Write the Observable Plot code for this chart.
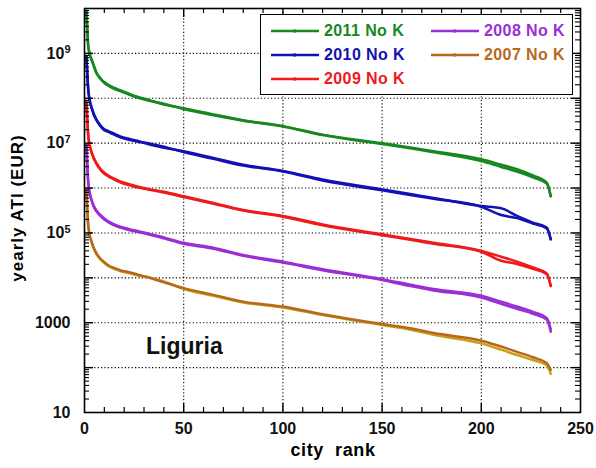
<!DOCTYPE html>
<html>
<head>
<meta charset="utf-8">
<script src="https://cdn.jsdelivr.net/npm/d3@7"></script>
<script src="https://cdn.jsdelivr.net/npm/@observablehq/plot@0.6"></script>
<style>
  body { margin: 0; background: #fff; }
  #wrap { position: relative; width: 596px; height: 468px; font-family: "Liberation Sans", Arial, sans-serif; font-weight: bold; }
  .abs { position: absolute; white-space: pre; }
  #legend { position: absolute; left: 260px; top: 14px; width: 311px; height: 79px; border: 1.5px solid #000; background: #fff; }
  .entry { position: absolute; height: 20px; display: flex; align-items: center; font-size: 16px; letter-spacing: 0.4px; }
  .entry svg { margin-right: 5px; }
</style>
</head>
<body>
<div id="wrap">
  <div id="chart"></div>
  <div id="legend"></div>
  <div class="abs" id="xtitle" style="left:0;width:596px;top:440px;text-align:center;padding-left:70px;box-sizing:border-box;font-size:18px;letter-spacing:0.6px;">city  rank</div>
  <div class="abs" id="ytitle" style="left:-82px;top:197px;width:200px;height:22px;line-height:22px;text-align:center;font-size:17px;letter-spacing:1px;transform:rotate(-90deg);transform-origin:50% 50%;">yearly ATI (EUR)</div>
</div>
<script>
// ---------------- data ----------------
const ranks = [1, 2, 4, 6, 8, 10, 12, 15, 18, 23, 27, 32, 40, 50, 65, 80, 100, 120, 150, 165, 176, 200, 210, 218, 226, 233, 235];

const seriesNames = ["2011 No K", "2010 No K", "2009 No K", "2008 No K", "2007 No K"];
const seriesColors = ["#17881f", "#1212b4", "#f01a1a", "#9a2fd6", "#b8681c"];
const secondColors = ["#17881f", "#1212b4", "#f01a1a", "#9a2fd6", "#c6a212"];

// log10 of yearly ATI (EUR), first branch
const log2011a = [9.95, 9.12, 8.82, 8.58, 8.43, 8.36, 8.30, 8.23, 8.18, 8.09, 8.03, 7.97, 7.86, 7.78, 7.64, 7.51, 7.38, 7.19, 7.00, 6.90, 6.82, 6.64, 6.52, 6.42, 6.28, 6.12, 5.82];
const log2010a = [8.93, 8.15, 7.74, 7.53, 7.40, 7.31, 7.27, 7.21, 7.15, 7.09, 7.05, 6.98, 6.90, 6.82, 6.67, 6.52, 6.38, 6.19, 5.97, 5.86, 5.78, 5.60, 5.55, 5.38, 5.23, 5.12, 4.86];
const log2009a = [7.93, 7.12, 6.75, 6.56, 6.43, 6.34, 6.28, 6.21, 6.15, 6.08, 6.03, 5.98, 5.92, 5.82, 5.67, 5.51, 5.38, 5.19, 4.97, 4.86, 4.78, 4.60, 4.47, 4.36, 4.23, 4.10, 3.82];
const log2008a = [6.96, 6.08, 5.68, 5.50, 5.40, 5.32, 5.26, 5.19, 5.14, 5.08, 5.04, 4.99, 4.90, 4.78, 4.67, 4.51, 4.36, 4.19, 3.97, 3.84, 3.75, 3.60, 3.47, 3.36, 3.24, 3.10, 2.86];
const log2007a = [5.96, 5.12, 4.75, 4.55, 4.43, 4.35, 4.28, 4.22, 4.17, 4.12, 4.07, 4.01, 3.90, 3.77, 3.62, 3.47, 3.36, 3.19, 2.97, 2.87, 2.77, 2.60, 2.47, 2.35, 2.23, 2.10, 1.95];
// second branch (nearly overlapping curve of the same year)
const log2011b = [9.95, 9.10, 8.80, 8.56, 8.45, 8.34, 8.28, 8.21, 8.16, 8.07, 8.01, 7.95, 7.88, 7.76, 7.62, 7.50, 7.37, 7.18, 6.98, 6.88, 6.80, 6.60, 6.47, 6.37, 6.24, 6.10, 5.82];
const log2010b = [8.93, 8.13, 7.72, 7.51, 7.38, 7.29, 7.25, 7.19, 7.13, 7.07, 7.03, 7.00, 6.92, 6.80, 6.65, 6.50, 6.37, 6.17, 5.95, 5.84, 5.76, 5.58, 5.40, 5.33, 5.21, 5.10, 4.86];
const log2009b = [7.93, 7.10, 6.73, 6.54, 6.41, 6.32, 6.26, 6.19, 6.13, 6.06, 6.01, 5.97, 5.90, 5.80, 5.65, 5.50, 5.36, 5.17, 4.95, 4.84, 4.76, 4.58, 4.38, 4.31, 4.20, 4.08, 3.82];
const log2008b = [6.96, 6.06, 5.66, 5.48, 5.38, 5.30, 5.24, 5.17, 5.12, 5.06, 5.02, 4.97, 4.88, 4.76, 4.65, 4.49, 4.34, 4.17, 3.95, 3.81, 3.72, 3.56, 3.42, 3.31, 3.20, 3.07, 2.80];
const log2007b = [5.96, 5.10, 4.73, 4.53, 4.41, 4.33, 4.26, 4.20, 4.15, 4.10, 4.05, 4.02, 3.92, 3.75, 3.60, 3.45, 3.34, 3.17, 2.95, 2.84, 2.73, 2.54, 2.40, 2.28, 2.17, 2.05, 1.86];

const branchA = [log2011a, log2010a, log2009a, log2008a, log2007a];
const branchB = [log2011b, log2010b, log2009b, log2008b, log2007b];

const xTickLabels = [0, 50, 100, 150, 200, 250];
const yTickLabels = [10, 1e3, 1e5, 1e7, 1e9];
const gridX = [50, 100, 150, 200];
const gridY = [1e2, 1e3, 1e4, 1e5, 1e6, 1e7, 1e8, 1e9];
const minorX = d3.range(10, 250, 10).filter(v => v % 50 !== 0);
const minorY = d3.range(1, 10).flatMap(e => d3.range(2, 10).map(k => k * 10 ** e));
const panelLabel = [{rank: 31, ati: 10 ** 2.31, text: "Liguria"}];

// ---------------- build rows ----------------
function rowsFor(arr, name) {
  return ranks.map((r, i) => ({rank: r, ati: 10 ** arr[i], series: name}));
}

const W = 596, H = 468, mt = 8, mb = 56, ml = 84, mr = 16;
const ph = H - mt - mb, pw = W - ml - mr;

const lineMarks = [];
seriesNames.forEach((name, i) => {
  lineMarks.push(Plot.line(rowsFor(branchB[i], name), {x: "rank", y: "ati", stroke: secondColors[i], strokeWidth: 2.5, curve: "monotone-x"}));
  lineMarks.push(Plot.line(rowsFor(branchA[i], name), {x: "rank", y: "ati", stroke: seriesColors[i], strokeWidth: 2.5, curve: "monotone-x"}));
});

const chart = Plot.plot({
  width: W, height: H,
  marginTop: mt, marginBottom: mb, marginLeft: ml, marginRight: mr,
  x: {domain: [0, 250]},
  y: {type: "log", domain: [10, 1e10]},
  style: {fontFamily: "'Liberation Sans', Arial, sans-serif", fontSize: "16px", fontWeight: "bold", color: "#111", background: "transparent"},
  marks: [
    Plot.ruleX(gridX, {stroke: "#000", strokeWidth: 1.1, strokeDasharray: "1.2,2.2"}),
    Plot.ruleY(gridY, {stroke: "#000", strokeWidth: 1.1, strokeDasharray: "1.2,2.2"}),
    ...lineMarks,
    Plot.text(panelLabel, {x: "rank", y: "ati", text: "text", textAnchor: "start", lineAnchor: "bottom", fontSize: 23, fontWeight: "bold", fill: "#111"}),
    // inward ticks: x bottom/top
    Plot.ruleX(minorX, {stroke: "#000", strokeWidth: 1.2, insetTop: ph - 5}),
    Plot.ruleX(minorX, {stroke: "#000", strokeWidth: 1.2, insetBottom: ph - 5}),
    Plot.ruleX(gridX, {stroke: "#000", strokeWidth: 1.4, insetTop: ph - 9}),
    Plot.ruleX(gridX, {stroke: "#000", strokeWidth: 1.4, insetBottom: ph - 9}),
    // inward ticks: y left/right
    Plot.ruleY(minorY, {stroke: "#000", strokeWidth: 1.1, insetRight: pw - 5}),
    Plot.ruleY(minorY, {stroke: "#000", strokeWidth: 1.1, insetLeft: pw - 5}),
    Plot.ruleY(gridY, {stroke: "#000", strokeWidth: 1.4, insetRight: pw - 9}),
    Plot.ruleY(gridY, {stroke: "#000", strokeWidth: 1.4, insetLeft: pw - 9}),
    Plot.frame({stroke: "#000", strokeWidth: 1.6}),
    Plot.axisX({ticks: xTickLabels, tickSize: 0, tickPadding: 10, label: null, fontSize: 16, fontWeight: "bold", tickFormat: d => String(d)}),
    Plot.axisY({ticks: yTickLabels, tickSize: 0, tickPadding: 14, label: null, fontSize: 16, fontWeight: "bold",
      tickFormat: d => d >= 1e5 ? "10^" + Math.round(Math.log10(d)) : String(d)})
  ]
});
document.getElementById("chart").appendChild(chart);

// superscript exponents on the y tick labels
d3.select(chart).selectAll('[aria-label="y-axis tick label"] text').each(function() {
  const t = this.textContent;
  if (t.includes("^")) {
    const [base, exp] = t.split("^");
    const sel = d3.select(this);
    sel.text("");
    sel.append("tspan").text(base);
    sel.append("tspan").attr("dy", "-0.5em").attr("font-size", "11px").text(exp);
  }
});

// legend (inside the plot, top right)
const legend = document.getElementById("legend");
const legendPos = [[10, 6], [10, 30], [10, 54], [170, 6], [170, 30]];
seriesNames.forEach((name, i) => {
  const e = document.createElement("div");
  e.className = "entry";
  e.style.left = legendPos[i][0] + "px";
  e.style.top = legendPos[i][1] + "px";
  e.style.color = seriesColors[i];
  e.innerHTML = `<svg width="48" height="10"><line x1="0" y1="5" x2="48" y2="5" stroke="${seriesColors[i]}" stroke-width="2.4"/><rect x="22" y="3.5" width="3" height="3" fill="${seriesColors[i]}"/></svg><span>${name}</span>`;
  legend.appendChild(e);
});
</script>
</body>
</html>
